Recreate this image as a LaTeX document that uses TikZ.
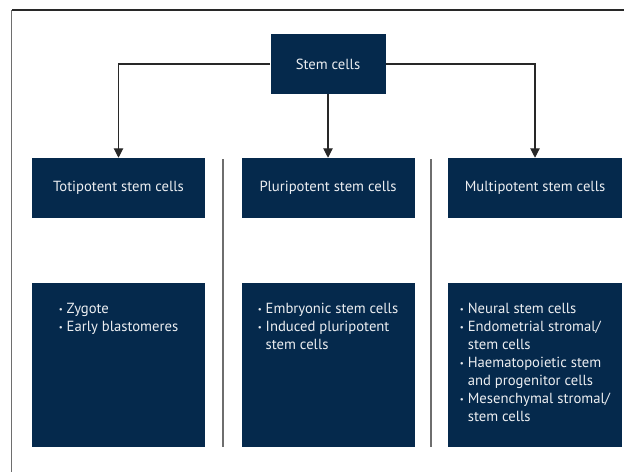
\documentclass[tikz,border=0pt]{standalone}
\usepackage{fontspec}
\setmainfont{PT Sans}
\usetikzlibrary{arrows.meta}
\definecolor{navy}{RGB}{5,41,76}
\definecolor{boxtxt}{RGB}{236,238,241}
\definecolor{conn}{RGB}{40,40,40}
\definecolor{sepgray}{RGB}{110,110,110}
\begin{document}
\begin{tikzpicture}[x=0.75pt,y=-0.75pt,
  navybox/.style={fill=navy,draw=none,inner sep=0pt,text=boxtxt,font=\fontsize{11}{13}\selectfont},
  headbox/.style={navybox,minimum width=129.75pt,minimum height=45pt},
  listbox/.style={navybox,minimum width=129.75pt,minimum height=123pt},
  listtxt/.style={inner sep=0pt,text=boxtxt,align=left,font=\fontsize{11}{13.5}\selectfont,anchor=north},
  conline/.style={draw=conn,line width=0.8pt},
  arr/.style={conline,-{Triangle[length=7pt,width=7pt]}},
  sepline/.style={draw=sepgray,line width=0.8pt}]
\useasboundingbox (0,0) rectangle (624,472);
% frame
\draw[draw=conn,line width=0.8pt] (624,10) -- (11.5,10);
\draw[draw=sepgray,line width=1pt] (11.5,10) -- (11.5,472);
% separators
\draw[sepline] (223,159) -- (223,447);
\draw[sepline] (431,159) -- (431,447);
% nodes
\node[navybox,minimum width=86.25pt,minimum height=45pt] (stem) at (328,64) {Stem cells};
\node[headbox] (toti) at (118.5,188) {Totipotent stem cells};
\node[headbox] (pluri) at (328,188) {Pluripotent stem cells};
\node[headbox,minimum width=130.5pt] (multi) at (535,188) {Multipotent stem cells};
\node[listbox] (totil) at (118.5,365) {};
\node[listbox] (pluril) at (328,365) {};
\node[listbox,minimum width=130.5pt] (multil) at (535,365) {};
% list texts
\newcommand\bul{\raisebox{0.15ex}{\scalebox{0.6}{\textbullet}}\ }
\newcommand\ind{\phantom{\bul}}
\node[listtxt] (totit) at ([yshift=-15pt]totil.north) {\bul Zygote\\\bul Early blastomeres};
\node[listtxt] (plurit) at ([yshift=-15pt]pluril.north) {\bul Embryonic stem cells\\\bul Induced pluripotent\\\ind stem cells};
\node[listtxt] (multit) at ([yshift=-15pt]multil.north) {\bul Neural stem cells\\\bul Endometrial stromal/\\\ind stem cells\\\bul Haematopoietic stem\\\ind and progenitor cells\\\bul Mesenchymal stromal/\\\ind stem cells};
% connectors
\draw[arr] (stem.west) -| (toti.north);
\draw[arr] (stem.east) -| (multi.north);
\draw[arr] (stem.south) -- (pluri.north);
\end{tikzpicture}
\end{document}
